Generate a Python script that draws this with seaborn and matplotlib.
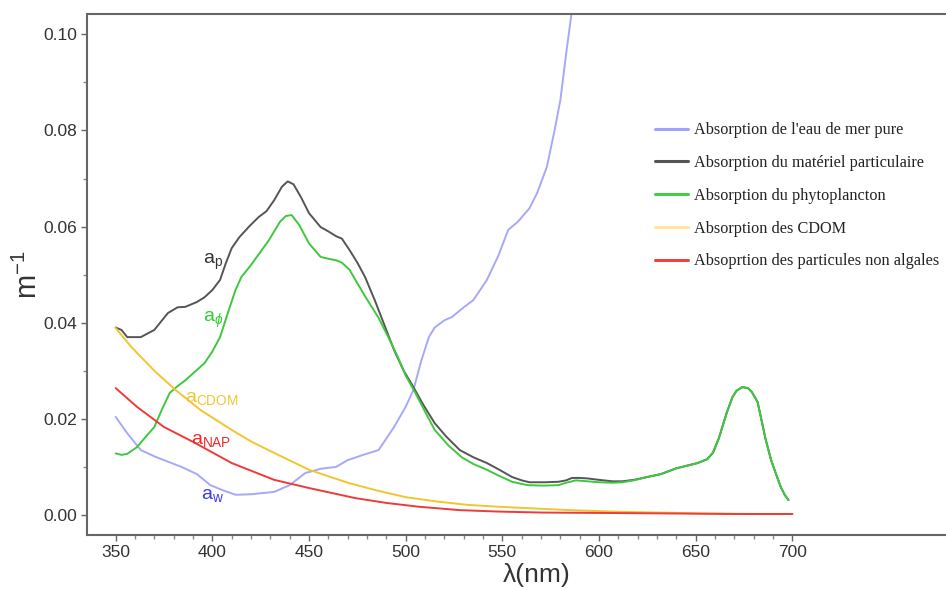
import numpy as np
import pandas as pd
import matplotlib
matplotlib.use("Agg")
import matplotlib.pyplot as plt
import seaborn as sns
from matplotlib.ticker import MultipleLocator, FixedLocator

# ---- data ----
wl_w = [350, 356, 363, 370, 375, 384, 392, 399, 405, 412, 420, 432, 440, 448, 456, 464, 470, 478,
        486, 494, 500, 504, 508, 512, 515, 520, 524, 530, 535, 542, 548, 553, 558, 564, 568, 573,
        577, 580, 583, 586, 590]
a_w = [0.0204, 0.0170, 0.0135, 0.0122, 0.0114, 0.0100, 0.0085, 0.0062, 0.0052, 0.0042, 0.0043, 0.0048,
       0.0062, 0.0087, 0.0096, 0.0100, 0.0114, 0.0125, 0.0135, 0.0183, 0.0225, 0.0260, 0.0320,
       0.0370, 0.0390, 0.0405, 0.0412, 0.0432, 0.0447, 0.0489, 0.0540, 0.0593, 0.0610, 0.0638,
       0.0670, 0.0724, 0.0800, 0.0863, 0.0960, 0.1050, 0.1150]

wl_p = [350, 353, 356, 363, 370, 377, 382, 386, 392, 396, 400, 404, 407, 410, 414, 419, 424, 428,
        432, 436, 439, 442, 446, 450, 456, 460, 464, 467, 471, 475, 479, 484, 489, 494, 499, 504,
        509, 515, 521, 528, 535, 542, 548, 555, 560, 564, 572, 579, 583, 586, 590, 594, 600, 607,
        612, 618, 625, 632, 640, 646, 651, 656, 659, 662, 666, 669, 671, 674, 677, 679, 682, 684,
        686, 689, 692, 694, 696, 698]
a_p = [0.0390, 0.0385, 0.0370, 0.0370, 0.0385, 0.0420, 0.0432, 0.0433, 0.0443, 0.0453, 0.0468, 0.0489,
       0.0524, 0.0555, 0.0578, 0.0600, 0.0620, 0.0632, 0.0655, 0.0683, 0.0694, 0.0688, 0.0660,
       0.0628, 0.0599, 0.0590, 0.0580, 0.0575, 0.0551, 0.0525, 0.0495, 0.0447, 0.0395, 0.0343,
       0.0300, 0.0266, 0.0230, 0.0191, 0.0163, 0.0135, 0.0120, 0.0108, 0.0095, 0.0079, 0.0072,
       0.0068, 0.0068, 0.0069, 0.0072, 0.0077, 0.0077, 0.0076, 0.0073, 0.0070, 0.0070, 0.0073,
       0.0079, 0.0085, 0.0097, 0.0103, 0.0108, 0.0116, 0.0130, 0.0160, 0.0212, 0.0245, 0.0258,
       0.0266, 0.0264, 0.0256, 0.0235, 0.0198, 0.0160, 0.0114, 0.0080, 0.0058, 0.0042, 0.0031]

wl_phi = [350, 353, 356, 361, 365, 370, 374, 378, 382, 386, 391, 396, 400, 404, 408, 412, 415, 420,
          425, 429, 432, 435, 438, 441, 445, 450, 456, 460, 464, 467, 471, 474, 479, 486, 491, 496,
          500, 505, 510, 515, 522, 529, 535, 542, 548, 555, 563, 571, 579, 583, 588, 594, 600, 607,
          612, 618, 625, 632, 640, 646, 651, 656, 659, 662, 666, 669, 671, 674, 677, 679, 682, 684,
          686, 689, 692, 694, 696, 698]
a_phi = [0.0128, 0.0125, 0.0127, 0.0141, 0.0160, 0.0183, 0.0220, 0.0254, 0.0268, 0.0280, 0.0298,
         0.0316, 0.0340, 0.0370, 0.0420, 0.0468, 0.0495, 0.0520, 0.0548, 0.0570, 0.0590, 0.0610,
         0.0622, 0.0624, 0.0603, 0.0565, 0.0537, 0.0533, 0.0530, 0.0525, 0.0510, 0.0489, 0.0455,
         0.0410, 0.0370, 0.0328, 0.0290, 0.0254, 0.0215, 0.0177, 0.0145, 0.0120, 0.0106, 0.0094,
         0.0082, 0.0069, 0.0062, 0.0061, 0.0062, 0.0067, 0.0072, 0.0070, 0.0068, 0.0067, 0.0068,
         0.0072, 0.0079, 0.0085, 0.0097, 0.0103, 0.0108, 0.0116, 0.0130, 0.0160, 0.0212, 0.0245,
         0.0258, 0.0266, 0.0264, 0.0256, 0.0235, 0.0198, 0.0160, 0.0114, 0.0080, 0.0058, 0.0042,
         0.0031]

wl_cdom = [350, 358, 370, 381, 394, 410, 420, 432, 450, 470, 485, 500, 516, 532, 548, 564, 585,
           607, 630, 655, 680, 700]
a_cdom = [0.0389, 0.0350, 0.0300, 0.0260, 0.0218, 0.0177, 0.0153, 0.0129, 0.0094, 0.0067, 0.0051,
          0.0037, 0.0028, 0.0021, 0.0017, 0.0014, 0.0010, 0.0007, 0.0005, 0.0003, 0.0002, 0.0002]

wl_nap = [350, 361, 375, 391, 410, 432, 450, 474, 490, 507, 528, 548, 570, 607, 640, 670, 700]
a_nap = [0.0264, 0.0225, 0.0183, 0.0150, 0.0108, 0.0073, 0.0056, 0.0035, 0.0025, 0.0017, 0.0010,
         0.0007, 0.0005, 0.0004, 0.0003, 0.0002, 0.0002]

legend_labels = ["Absorption de l'eau de mer pure",
                 "Absorption du matériel particulaire",
                 "Absorption du phytoplancton",
                 "Absorption des CDOM",
                 "Absoprtion des particules non algales"]
curve_labels = [r"a$_{\mathrm{w}}$", r"a$_{\mathrm{p}}$", r"a$_{\phi}$",
                r"a$_{\mathrm{CDOM}}$", r"a$_{\mathrm{NAP}}$"]
x_ticks = [350, 400, 450, 500, 550, 600, 650, 700]
y_ticks = [0.00, 0.02, 0.04, 0.06, 0.08, 0.10]

# ---- style ----
sns.set_theme(style="ticks")
plt.rcParams['font.family'] = ['Liberation Sans', 'DejaVu Sans']
plt.rcParams['mathtext.fontset'] = 'custom'
plt.rcParams['mathtext.rm'] = 'Liberation Sans'
plt.rcParams['mathtext.it'] = 'Liberation Sans:italic'

colors = ["#a8a8f8", "#555555", "#3fc83f", "#f2c530", "#ee3a3a"]
legend_colors = ["#a0a0ff", "#555555", "#44cc44", "#ffe79a", "#f04040"]

fig = plt.figure(figsize=(9.46, 5.90), dpi=100)
ax = fig.add_axes([0.092, 0.093, 0.95, 0.883])

series = [(wl_w, a_w), (wl_p, a_p), (wl_phi, a_phi), (wl_cdom, a_cdom), (wl_nap, a_nap)]
for (xs, ys), c, lab in zip(series, colors, legend_labels):
    df = pd.DataFrame({"wl": xs, "a": ys})
    sns.lineplot(data=df, x="wl", y="a", ax=ax, color=c, lw=1.4, label=lab, legend=False)

ax.set_xlim(335.2, 800)
ax.set_ylim(-0.0042, 0.1042)
ax.set_xticks(x_ticks)
ax.set_yticks(y_ticks)
ax.set_yticklabels([f"{v:.2f}" for v in y_ticks])
ax.xaxis.set_minor_locator(FixedLocator(list(range(350, 701, 10))))
ax.yaxis.set_minor_locator(MultipleLocator(0.01))
ax.tick_params(axis="both", which="major", direction="out", length=4, width=1,
               color="#666666", labelsize=12.5, labelcolor="#333333", pad=3)
ax.tick_params(axis="both", which="minor", direction="out", length=3, width=1, color="#888888")
for s in ["left", "top", "bottom"]:
    ax.spines[s].set_color("#666666")
    ax.spines[s].set_linewidth(1.5)
ax.spines["right"].set_visible(False)

ax.set_xlabel("λ(nm)", fontsize=19, color="#333333", labelpad=2)
ax.set_ylabel(r"m$^{-1}$", fontsize=21, color="#333333", labelpad=0)

# curve annotations
ann_pos = [(394, 0.0040), (395, 0.0526), (395, 0.0405), (386, 0.0243), (389, 0.0154)]
ann_cols = ["#3a3aee", "#333333", "#33cc33", "#f2c530", "#ee2a2a"]
for (x, y), lab, c in zip(ann_pos, curve_labels, ann_cols):
    ax.text(x, y, lab, fontsize=14, color=c, ha="left", va="center")

# legend
handles = [plt.Line2D([], [], color=c, lw=2.2) for c in legend_colors]
leg = ax.legend(handles, legend_labels, loc="upper left", bbox_to_anchor=(0.6235, 0.808),
                frameon=False, prop={"family": "Liberation Serif", "size": 11.7},
                handlelength=2.0, handletextpad=0.4, labelspacing=1.03, borderpad=0)
for t in leg.get_texts():
    t.set_color("#222222")

fig.savefig("out.png", dpi=100)
